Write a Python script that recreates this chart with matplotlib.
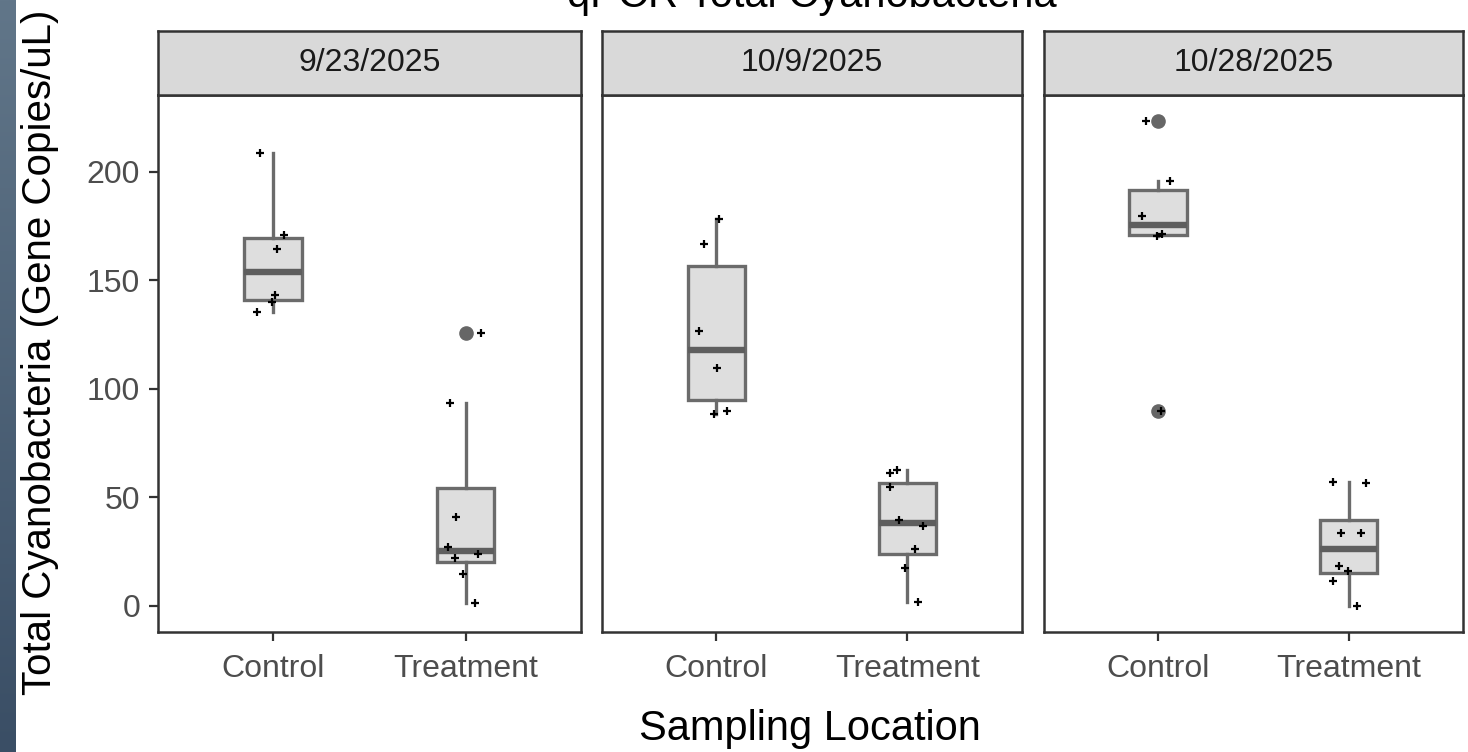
import numpy as np
import matplotlib
matplotlib.use('Agg')
import matplotlib.pyplot as plt
from matplotlib.colors import LinearSegmentedColormap

plt.rcParams['font.family'] = ['Liberation Sans', 'DejaVu Sans']

# facet dates and sampling locations
dates = ['9/23/2025', '10/9/2025', '10/28/2025']
groups = ['Control', 'Treatment']

# qPCR values (gene copies/uL), one list per date
control = [
    [208.5, 171.0, 164.5, 143.0, 140.0, 135.5],
    [178.0, 166.5, 126.5, 109.5, 90.0, 88.5],
    [223.3, 195.5, 179.5, 171.3, 170.5, 89.6],
]
treatment = [
    [125.5, 93.5, 41.0, 27.0, 24.0, 22.0, 14.5, 1.3],
    [62.5, 61.0, 55.0, 39.6, 36.7, 26.0, 17.7, 1.6],
    [57.3, 56.5, 33.7, 33.7, 18.5, 16.2, 11.6, 0.0],
]

# horizontal jitter of the raw points
control_jitter = [
    [-0.066, 0.056, 0.021, 0.012, -0.005, -0.083],
    [0.014, -0.064, -0.091, 0.005, 0.056, -0.012],
    [-0.063, 0.065, -0.082, 0.024, -0.005, 0.014],
]
treatment_jitter = [
    [0.082, -0.082, -0.047, -0.090, 0.064, -0.056, -0.012, 0.047],
    [-0.054, -0.089, -0.089, -0.045, 0.084, 0.040, -0.010, 0.057],
    [-0.084, 0.089, -0.042, 0.063, -0.049, -0.005, -0.084, 0.045],
]

W, H = 1468, 752
fig = plt.figure(figsize=(W / 100, H / 100), dpi=100)

# slide background strip on the left edge
ax_bg = fig.add_axes([0, 0, 16 / W, 1])
grad = np.linspace(0, 1, 256).reshape(-1, 1)
cmap = LinearSegmentedColormap.from_list('bg', ['#617689', '#3a4e65'])
ax_bg.imshow(grad, aspect='auto', cmap=cmap, extent=[0, 1, 0, 1], origin='upper')
ax_bg.axis('off')

panels_px = [(157.5, 581), (601.5, 1022), (1043.5, 1463)]
top_px, bot_px, strip_top = 95, 632, 31
box_col = '#6b6b6b'
frame_col = '#333333'

for i, date in enumerate(dates):
    x0, x1 = panels_px[i]
    ax = fig.add_axes([x0 / W, 1 - bot_px / H, (x1 - x0) / W, (bot_px - top_px) / H])
    ax.boxplot([control[i], treatment[i]], positions=[1, 2], widths=0.3,
               patch_artist=True, showcaps=False,
               boxprops=dict(facecolor='#dedede', edgecolor=box_col, linewidth=2.4),
               whiskerprops=dict(color=box_col, linewidth=2.4),
               medianprops=dict(color='#5e5e5e', linewidth=4.6, solid_capstyle='butt'),
               flierprops=dict(marker='o', markerfacecolor='#666666',
                               markeredgecolor='#666666', markersize=9.5))
    for pos, vals, jit in [(1, control[i], control_jitter[i]),
                           (2, treatment[i], treatment_jitter[i])]:
        ax.plot(pos + np.array(jit), vals, linestyle='none', marker='+',
                color='black', markersize=5.5, markeredgewidth=1.6, zorder=5)

    ax.set_xlim(0.4, 2.6)
    ax.set_ylim(-12, 235.3)
    ax.set_xticks([1, 2])
    ax.set_xticklabels(groups)
    for sp in ax.spines.values():
        sp.set_color(frame_col)
        sp.set_linewidth(1.8)
    ax.tick_params(axis='x', length=6.5, width=1.6, color=frame_col,
                   labelsize=23, labelcolor='#4d4d4d', pad=9)
    if i == 0:
        ax.set_yticks([0, 50, 100, 150, 200])
        ax.tick_params(axis='y', length=6.5, width=1.6, color=frame_col,
                       labelsize=23, labelcolor='#4d4d4d', pad=6)
    else:
        ax.tick_params(axis='y', left=False, labelleft=False)

    # facet strip
    sx = fig.add_axes([x0 / W, 1 - top_px / H, (x1 - x0) / W, (top_px - strip_top) / H])
    sx.set_facecolor('#d9d9d9')
    sx.set_xticks([])
    sx.set_yticks([])
    for sp in sx.spines.values():
        sp.set_color(frame_col)
        sp.set_linewidth(1.8)
    sx.text(0.5, 0.5, date, ha='center', va='center', fontsize=23,
            color='#1a1a1a', transform=sx.transAxes)

fig.text(812 / W, 1 - 7.5 / H, 'qPCR Total Cyanobacteria', ha='center',
         va='baseline', fontsize=30, color='black')
fig.text(40 / W, 1 - 352 / H, 'Total Cyanobacteria (Gene Copies/uL)',
         rotation=90, ha='center', va='center', fontsize=29, color='black')
fig.text(810 / W, 1 - 740 / H, 'Sampling Location', ha='center',
         va='baseline', fontsize=30, color='black')

fig.savefig('out.png', dpi=100)
